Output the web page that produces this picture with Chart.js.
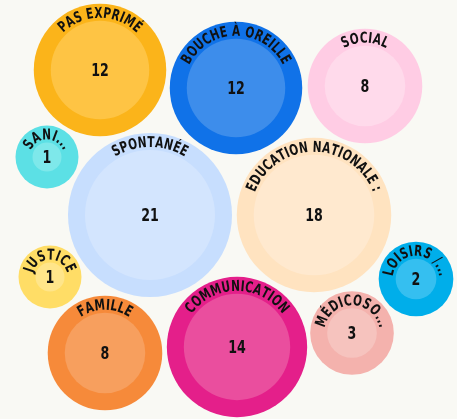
<!DOCTYPE html>
<html>
<head>
<meta charset="utf-8">
<script src="https://cdn.jsdelivr.net/npm/chart.js@4"></script>
<style>
  html, body { margin: 0; padding: 0; background: #f9f9f4; }
  #wrap { width: 457px; height: 419px; }
</style>
</head>
<body>
<div id="wrap"><canvas id="bubbleChart"></canvas></div>
<script>
const labels = ['Pas exprimé', 'Bouche à oreille', 'Social', 'Sani...', 'Spontanée', 'Education nationale :', 'Justice', 'Famille', 'Communication', 'Médicoso...', 'Loisirs /...'];
const values = [12, 12, 8, 1, 21, 18, 1, 8, 14, 3, 2];
const xPos = [100, 236, 365, 47, 150, 314, 50, 105, 237, 352, 416];
const yPos = [70, 88, 86, 157, 215, 215, 277, 353, 347, 333, 279];
const outerColors = ['#fbb41a', '#1072e8', '#ffcce4', '#5ce0e5', '#c7defe', '#ffe3c0', '#ffdd66', '#f68a3a', '#e41f8a', '#f4b2ad', '#00aeea'];
const innerColors = ['#fec444', '#3d8deb', '#ffdaeb', '#7ee8ea', '#d3e5fe', '#ffe9cf', '#ffe58a', '#f79f5e', '#ea4e9e', '#f6c3be', '#35bff0'];

const RING = 17;
const LABEL_FONT = '600 15px "DejaVu Sans Condensed", "Liberation Sans Narrow", sans-serif';
const VALUE_FONT = '600 18px "DejaVu Sans Condensed", "Liberation Sans Narrow", sans-serif';
const SQUEEZE = 0.78;   // narrow the glyphs, the original uses a tall condensed face

// bubble radius grows with sqrt of the value, with a minimum size
function radiusFor(v) {
    return 17.4 + 14.1 * Math.sqrt(v);
}

const outerData = values.map((v, i) => ({ x: xPos[i], y: yPos[i], r: radiusFor(v) }));
const innerData = values.map((v, i) => ({ x: xPos[i], y: yPos[i], r: radiusFor(v) - RING }));

const bubbleLabels = {
    id: 'bubbleLabels',
    afterDatasetsDraw(chart) {
        const ctx = chart.ctx;
        const meta = chart.getDatasetMeta(1);
        meta.data.forEach((pt, i) => {
            const r = pt.options.radius;
            ctx.save();
            ctx.fillStyle = '#111';
            ctx.textAlign = 'center';

            ctx.font = VALUE_FONT;
            ctx.textBaseline = 'middle';
            ctx.save();
            ctx.translate(pt.x, pt.y + 1);
            ctx.scale(SQUEEZE, 1);
            ctx.fillText(String(values[i]), 0, 0);
            ctx.restore();

            // curved label along the top of the ring
            const text = labels[i].toUpperCase();
            ctx.font = LABEL_FONT;
            const R = r - 14;
            const spacing = 0.2;
            const widths = [...text].map(c => ctx.measureText(c).width * SQUEEZE + spacing);
            const total = widths.reduce((a, b) => a + b, 0);
            let angle = -Math.PI / 2 - total / (2 * R);
            ctx.textBaseline = 'alphabetic';
            [...text].forEach((c, k) => {
                const a = angle + widths[k] / (2 * R);
                ctx.save();
                ctx.translate(pt.x + R * Math.cos(a), pt.y + R * Math.sin(a));
                ctx.rotate(a + Math.PI / 2);
                ctx.scale(SQUEEZE, 1);
                ctx.fillText(c, 0, 0);
                ctx.restore();
                angle += widths[k] / R;
            });
            ctx.restore();
        });
    }
};

const ctx = document.getElementById('bubbleChart').getContext('2d');
new Chart(ctx, {
    type: 'bubble',
    data: {
        datasets: [
            {
                label: 'inner',
                data: innerData,
                backgroundColor: innerColors,
                borderWidth: 0,
                hoverRadius: 0,
                clip: false
            },
            {
                label: 'outer',
                data: outerData,
                backgroundColor: outerColors,
                borderWidth: 0,
                hoverRadius: 0,
                clip: false
            }
        ]
    },
    options: {
        responsive: true,
        maintainAspectRatio: false,
        animation: false,
        layout: { padding: 0, autoPadding: false },
        plugins: {
            legend: { display: false },
            tooltip: { enabled: false }
        },
        scales: {
            x: { type: 'linear', min: 0, max: 457, display: false },
            y: { type: 'linear', min: 0, max: 419, reverse: true, display: false }
        }
    },
    plugins: [bubbleLabels]
});
</script>
</body>
</html>
